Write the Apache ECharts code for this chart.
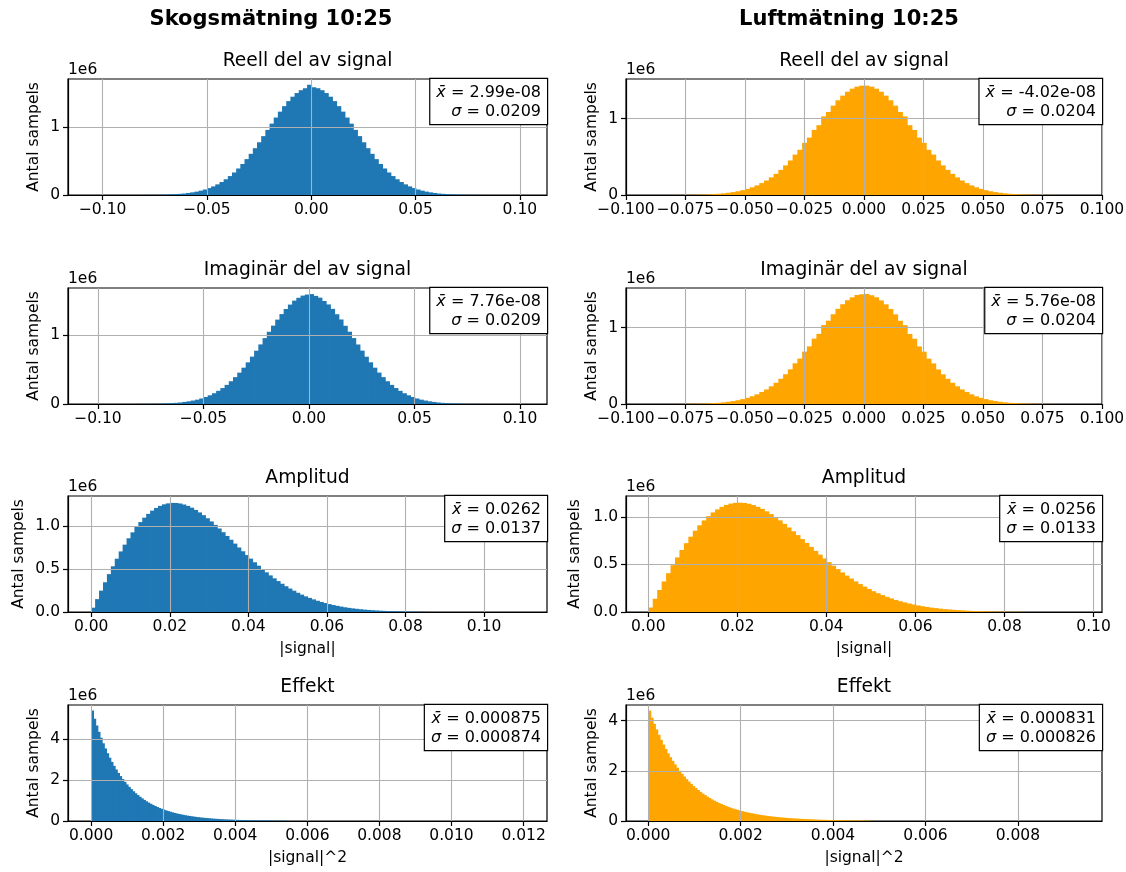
<!DOCTYPE html>
<html><head><meta charset="utf-8">
<script src="https://cdn.jsdelivr.net/npm/echarts@6/dist/echarts.min.js"></script>
<style>html,body{margin:0;padding:0;background:#fff}#c{width:1126px;height:872px}</style>
</head><body><div id="c"></div>
<script>
// ---------- DATA (counts in units of 1e6) ----------
const gaussBinWidth = 0.002;           // bin width used for Re / Im histograms
const gaussStart = -0.09;              // first bin edge for Re / Im histograms
const skogReell = [0.0001,0.0002,0.0003,0.0004,0.0006,0.001,0.0016,0.0023,0.0031,0.0045,
0.0065,0.009,0.013,0.017,0.022,0.030,0.039,0.050,0.064,0.081,
0.102,0.127,0.157,0.192,0.232,0.279,0.332,0.391,0.457,0.529,
0.607,0.690,0.777,0.868,0.960,1.052,1.142,1.229,1.310,1.384,
1.449,1.503,1.545,1.574,1.625,1.588,1.574,1.545,1.503,1.449,
1.384,1.310,1.229,1.142,1.052,0.960,0.868,0.777,0.690,0.607,
0.529,0.457,0.391,0.332,0.279,0.232,0.192,0.157,0.127,0.102,
0.081,0.064,0.050,0.039,0.030,0.022,0.017,0.013,0.009,0.0065,
0.0045,0.0031,0.0023,0.0016,0.001,0.0006,0.0004,0.0003,0.0002,0.0001];
const skogImag = [0.0001,0.0002,0.0003,0.0004,0.0006,0.001,0.0016,0.0023,0.0031,0.0045,
0.0065,0.009,0.013,0.017,0.022,0.030,0.039,0.050,0.063,0.080,
0.101,0.126,0.156,0.191,0.231,0.277,0.330,0.389,0.454,0.526,
0.603,0.686,0.772,0.863,0.954,1.046,1.135,1.222,1.302,1.376,
1.440,1.497,1.538,1.570,1.585,1.592,1.566,1.540,1.492,1.442,
1.378,1.300,1.224,1.133,1.047,0.955,0.862,0.773,0.685,0.604,
0.526,0.455,0.389,0.330,0.277,0.231,0.191,0.156,0.126,0.101,
0.080,0.063,0.050,0.039,0.030,0.022,0.017,0.013,0.009,0.0065,
0.0045,0.0031,0.0023,0.0016,0.001,0.0006,0.0004,0.0003,0.0002,0.0001];
const luftReell = [0.0001,0.0001,0.0002,0.0003,0.0004,0.0008,0.0012,0.0017,0.0024,0.0034,
0.0047,0.0065,0.009,0.012,0.016,0.022,0.029,0.038,0.049,0.063,
0.080,0.101,0.126,0.156,0.190,0.231,0.277,0.329,0.388,0.452,
0.530,0.592,0.683,0.752,0.852,0.915,1.030,1.088,1.171,1.241,
1.302,1.353,1.393,1.420,1.433,1.433,1.420,1.393,1.353,1.302,
1.241,1.171,1.088,1.030,0.915,0.852,0.752,0.683,0.592,0.530,
0.452,0.388,0.329,0.277,0.231,0.190,0.156,0.126,0.101,0.080,
0.063,0.049,0.038,0.029,0.022,0.016,0.012,0.009,0.0065,0.0047,
0.0034,0.0024,0.0017,0.0012,0.0008,0.0004,0.0003,0.0002,0.0001,0.0001];
const luftImag = [0.0001,0.0001,0.0002,0.0003,0.0004,0.0008,0.0012,0.0017,0.0024,0.0034,
0.0047,0.0066,0.009,0.012,0.016,0.022,0.029,0.038,0.049,0.064,
0.081,0.102,0.127,0.157,0.191,0.232,0.278,0.331,0.390,0.454,
0.533,0.595,0.686,0.755,0.856,0.919,1.034,1.092,1.176,1.247,
1.308,1.360,1.398,1.428,1.438,1.442,1.425,1.399,1.357,1.306,
1.245,1.175,1.091,1.033,0.918,0.855,0.754,0.685,0.594,0.532,
0.453,0.389,0.330,0.278,0.232,0.191,0.157,0.127,0.101,0.081,
0.064,0.049,0.038,0.029,0.022,0.016,0.012,0.009,0.0066,0.0047,
0.0034,0.0024,0.0017,0.0012,0.0008,0.0004,0.0003,0.0002,0.0001,0.0001];

const ampBinWidth = 0.001;             // |signal| histograms, first edge 0
const skogAmp = [0.050,0.150,0.249,0.346,0.441,0.532,0.620,0.705,0.784,0.858,
0.927,0.990,1.047,1.098,1.142,1.180,1.211,1.235,1.253,1.264,
1.270,1.269,1.263,1.251,1.235,1.214,1.188,1.159,1.127,1.091,
1.054,1.014,0.972,0.929,0.885,0.841,0.796,0.751,0.707,0.663,
0.621,0.579,0.539,0.500,0.462,0.426,0.392,0.360,0.329,0.300,
0.273,0.248,0.224,0.202,0.182,0.164,0.147,0.131,0.117,0.104,
0.092,0.081,0.072,0.063,0.055,0.048,0.042,0.037,0.032,0.028,
0.024,0.021,0.018,0.015,0.013,0.011,0.0094,0.0080,0.0068,0.0057,
0.0048,0.0040,0.0033,0.0028,0.0023];
const luftAmp = [0.047,0.139,0.231,0.321,0.408,0.493,0.574,0.652,0.724,0.792,
0.855,0.912,0.963,1.008,1.047,1.079,1.106,1.126,1.140,1.148,
1.150,1.147,1.138,1.125,1.107,1.085,1.059,1.030,0.998,0.964,
0.927,0.889,0.849,0.809,0.767,0.726,0.685,0.643,0.603,0.563,
0.525,0.487,0.451,0.416,0.383,0.352,0.322,0.294,0.267,0.242,
0.219,0.198,0.178,0.160,0.143,0.127,0.113,0.101,0.089,0.079,
0.069,0.061,0.053,0.046,0.041,0.035,0.030,0.026,0.023,0.020,
0.017,0.014,0.012,0.010,0.0088,0.0075,0.0063,0.0053,0.0044,0.0037,
0.0031,0.0026,0.0021,0.0017];

const skogEffBinWidth = 0.00006;       // |signal|^2 histograms, first edge 0
const luftEffBinWidth = 0.00005;
const skogEff = [5.41,5.008,4.676,4.366,4.077,3.806,3.554,3.319,3.099,2.893,
2.702,2.523,2.355,2.199,2.054,1.917,1.790,1.672,1.561,1.457,
1.361,1.271,1.187,1.108,1.034,0.966,0.902,0.842,0.786,0.734,
0.686,0.640,0.598,0.558,0.521,0.487,0.454,0.424,0.396,0.370,
0.345,0.322,0.301,0.281,0.263,0.245,0.229,0.214,0.200,0.186,
0.174,0.162,0.152,0.142,0.132,0.123,0.115,0.108,0.101,0.094,
0.088,0.082,0.076,0.071,0.067,0.062,0.058,0.054,0.051,0.047,
0.044,0.041,0.0385,0.036,0.0336,0.0313,0.0293,0.0273,0.0255,0.0238,
0.0222,0.0207,0.0194,0.0181,0.0169,0.0158,0.0147,0.0137,0.0128,0.0120];
const luftEff = [4.40,4.112,3.872,3.646,3.433,3.232,3.044,2.866,2.698,2.541,
2.393,2.253,2.121,1.997,1.881,1.771,1.667,1.570,1.478,1.392,
1.311,1.234,1.162,1.094,1.030,0.970,0.914,0.860,0.810,0.763,
0.718,0.676,0.637,0.600,0.564,0.532,0.500,0.471,0.444,0.418,
0.393,0.370,0.349,0.328,0.309,0.291,0.274,0.258,0.243,0.229,
0.216,0.203,0.191,0.180,0.169,0.160,0.150,0.141,0.133,0.125,
0.118,0.111,0.105,0.099,0.093,0.087,0.082,0.078,0.073,0.069,
0.065,0.061,0.057,0.054,0.051,0.048,0.045,0.042,0.040,0.038,
0.035,0.033,0.031,0.030,0.028,0.026,0.025,0.023,0.022,0.021,
0.019,0.018,0.017,0.016,0.015,0.014];

// tick labels
const ticksGaussSkog = [-0.10,-0.05,0,0.05,0.10];
const ticksGaussLuft = [-0.100,-0.075,-0.050,-0.025,0,0.025,0.050,0.075,0.100];
const ticksAmp = [0,0.02,0.04,0.06,0.08,0.10];
const ticksEffSkog = [0,0.002,0.004,0.006,0.008,0.010,0.012];
const ticksEffLuft = [0,0.002,0.004,0.006,0.008];
const yTicksGauss = [0,1];
const yTicksAmp = [0,0.5,1.0];
const yTicksEff = [0,2,4];

// texts
const columnTitles = ['Skogsmätning 10:25','Luftmätning 10:25'];
const rowTitles = ['Reell del av signal','Imaginär del av signal','Amplitud','Effekt'];
const statMeans = [['2.99e-08','7.76e-08','0.0262','0.000875'],['-4.02e-08','5.76e-08','0.0256','0.000831']];
const statStds  = [['0.0209','0.0209','0.0137','0.000874'],['0.0204','0.0204','0.0133','0.000826']];

// ---------- LAYOUT / STYLE ----------
const FONT = 'DejaVu Sans';
const colors = ['#1f77b4', '#ffa500'];
const colLeft = [68, 626], colWidth = [479, 476];
const rowTop = [79, 288, 496, 705], rowH = 116;

const panels = [
  // col, row, counts, start, width, xMin, xMax, xTicks, xDec, yMax, yTicks, yDec, xName, yGap
  [0,0,skogReell,gaussStart,gaussBinWidth,-0.1166,0.113,ticksGaussSkog,2,1.71,yTicksGauss,0,'',26],
  [1,0,luftReell,gaussStart,gaussBinWidth,-0.1,0.1,ticksGaussLuft,3,1.52,yTicksGauss,0,'',26],
  [0,1,skogImag,gaussStart,gaussBinWidth,-0.1142,0.1128,ticksGaussSkog,2,1.68,yTicksGauss,0,'',26],
  [1,1,luftImag,gaussStart,gaussBinWidth,-0.1,0.1,ticksGaussLuft,3,1.52,yTicksGauss,0,'',26],
  [0,2,skogAmp,0,ampBinWidth,-0.0059,0.116,ticksAmp,2,1.35,yTicksAmp,1,'|signal|',41],
  [1,2,luftAmp,0,ampBinWidth,-0.005,0.1019,ticksAmp,2,1.22,yTicksAmp,1,'|signal|',43],
  [0,3,skogEff,0,skogEffBinWidth,-0.00064,0.01265,ticksEffSkog,3,5.68,yTicksEff,0,'|signal|^2',26],
  [1,3,luftEff,0,luftEffBinWidth,-0.00048,0.00982,ticksEffLuft,3,4.62,yTicksEff,0,'|signal|^2',26]
];

function fmt(dec) {
  return function (v) {
    const s = Math.abs(v).toFixed(dec);
    return (v < -1e-12 ? '\u2212' : '') + s;
  };
}

const grid = [], xAxis = [], yAxis = [], series = [], graphic = [];
const txt = { color: '#000', fontFamily: FONT, fontSize: 15.5 };

panels.forEach((p, i) => {
  const [col, row, counts, start, w, xMin, xMax, xTicks, xDec, yMax, yTicks, yDec, xName, yGap] = p;
  const left = colLeft[col], width = colWidth[col], top = rowTop[row];
  grid.push({ left, top, width, height: rowH, show: true, borderColor: '#000', borderWidth: 1.2,
    backgroundColor: 'transparent', containLabel: false, outerBoundsMode: 'none' });
  xAxis.push({
    gridIndex: i, type: 'value', min: xMin, max: xMax, z: 5,
    axisLine: { show: true, onZero: false, lineStyle: { color: '#000', width: 1.2 } },
    axisTick: { show: true, length: 5, lineStyle: { color: '#000', width: 1.2 }, customValues: xTicks },
    axisLabel: Object.assign({ customValues: xTicks, formatter: fmt(xDec), margin: 7 }, txt),
    splitLine: { show: true, lineStyle: { color: '#b0b0b0', width: 1.1 } },
    name: xName, nameLocation: 'middle', nameGap: 29, nameTextStyle: Object.assign({}, txt)
  });
  yAxis.push({
    gridIndex: i, type: 'value', min: 0, max: yMax, z: 5,
    axisLine: { show: true, onZero: false, lineStyle: { color: '#000', width: 1.2 } },
    axisTick: { show: true, length: 5, lineStyle: { color: '#000', width: 1.2 }, customValues: yTicks },
    axisLabel: Object.assign({ customValues: yTicks, formatter: fmt(yDec), margin: 8 }, txt),
    splitLine: { show: true, lineStyle: { color: '#b0b0b0', width: 1.1 } },
    name: 'Antal sampels', nameLocation: 'middle', nameRotate: 90, nameGap: yGap,
    nameTextStyle: Object.assign({}, txt)
  });
  const data = counts.map((c, k) => [start + k * w, start + (k + 1) * w, c]);
  const color = colors[col];
  series.push({
    type: 'custom', xAxisIndex: i, yAxisIndex: i, data, encode: { x: [0, 1], y: 2 }, silent: true, z: 2,
    renderItem: function (params, api) {
      const a = api.coord([api.value(0), api.value(2)]);
      const b = api.coord([api.value(1), 0]);
      return { type: 'rect', shape: { x: a[0], y: a[1], width: b[0] - a[0] + 0.8, height: b[1] - a[1] },
        style: { fill: color } };
    }
  });
  // subplot title
  graphic.push({ type: 'text', z: 100, x: left + width / 2, y: top - 18,
    style: { text: rowTitles[row], fontFamily: FONT, fontSize: 18.7, fill: '#000', align: 'center', verticalAlign: 'middle' } });
  // offset text
  graphic.push({ type: 'text', z: 100, x: left, y: top - 9,
    style: { text: '1e6', fontFamily: FONT, fontSize: 15.5, fill: '#000', align: 'left', verticalAlign: 'middle' } });
  // stats box
  graphic.push({ type: 'text', z: 100, x: left + width, y: top,
    style: {
      text: '{i|x\u0304} = ' + statMeans[col][row] + '\n{i|\u03c3} = ' + statStds[col][row],
      rich: { i: { fontStyle: 'italic', fontFamily: FONT, fontSize: 16, lineHeight: 19, fill: '#000' } },
      fontFamily: FONT, fontSize: 16, lineHeight: 19, fill: '#000', align: 'right', verticalAlign: 'top',
      backgroundColor: '#fff', borderColor: '#000', borderWidth: 1.2, padding: [4, 6, 3, 6]
    } });
});

graphic.push({ type: 'text', z: 100, x: 271, y: 20,
  style: { text: columnTitles[0], fontFamily: FONT, fontSize: 21, fontWeight: 'bold', fill: '#000', align: 'center', verticalAlign: 'middle' } });
graphic.push({ type: 'text', z: 100, x: 849, y: 20,
  style: { text: columnTitles[1], fontFamily: FONT, fontSize: 21, fontWeight: 'bold', fill: '#000', align: 'center', verticalAlign: 'middle' } });

const chart = echarts.init(document.getElementById('c'), null, { renderer: 'canvas' });
chart.setOption({
  animation: false,
  backgroundColor: '#fff',
  textStyle: { fontFamily: FONT },
  grid, xAxis, yAxis, series, graphic
});
</script>
</body></html>
